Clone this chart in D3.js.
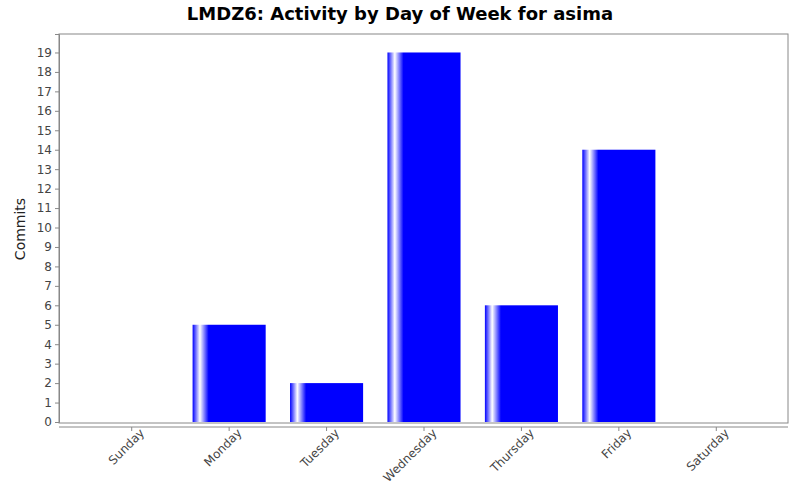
<!DOCTYPE html>
<html><head><meta charset="utf-8">
<script src="https://cdn.jsdelivr.net/npm/d3@7"></script>
<style>body{margin:0;background:#fff}text{font-family:"DejaVu Sans",sans-serif}</style>
</head><body><svg id="c" width="800" height="500"></svg>
<script>
var days = ['Sunday','Monday','Tuesday','Wednesday','Thursday','Friday','Saturday'];
var commits = [0,5,2,19,6,14,0];
var yTicks = d3.range(0,20);

var svg = d3.select('#c');
var L = 59, R = 788, T = 34, B = 423;

var x = d3.scaleBand().domain(days).range([83, 765]).paddingInner(0.25).paddingOuter(0.125);
var y = d3.scaleLinear().domain([0, 19.95]).range([B - 1, T]);

var grad = svg.append('defs').append('linearGradient').attr('id','barGrad')
  .attr('x1','0%').attr('x2','100%').attr('y1','0%').attr('y2','0%');
[['0%','#0000ff'],['10%','#ffffff'],['22%','#0000ff'],['100%','#0000ff']].forEach(function(s){
  grad.append('stop').attr('offset', s[0]).attr('stop-color', s[1]);
});

svg.append('rect').attr('x',L).attr('y',T).attr('width',R-L).attr('height',B-T)
  .attr('fill','#fff').attr('stroke','#888').attr('stroke-width',1);

svg.selectAll('rect.bar').data(commits).enter().append('rect').attr('class','bar')
  .attr('x', function(d,i){ return x(days[i]); })
  .attr('width', x.bandwidth())
  .attr('y', function(d){ return y(d); })
  .attr('height', function(d){ return y(0) - y(d); })
  .attr('fill','url(#barGrad)');

var ya = svg.append('g').attr('transform','translate('+L+',0)')
  .call(d3.axisLeft(y).tickValues(yTicks).tickSize(4).tickPadding(3));
ya.select('.domain').attr('stroke','#888');
ya.selectAll('line').attr('stroke','#888');
ya.selectAll('text').attr('fill','#444').attr('font-size','12px');

var xa = svg.append('g').attr('transform','translate(0,'+(B+4)+')')
  .call(d3.axisBottom(x).tickSize(4).tickSizeOuter(0));
xa.select('.domain').attr('stroke','#888').attr('d','M'+L+',0H'+R);
xa.selectAll('line').attr('stroke','#888');
xa.selectAll('text').attr('fill','#444').attr('font-size','12px')
  .attr('text-anchor','end').attr('dx','0.4em').attr('dy','0.6em')
  .attr('transform','rotate(-45)');

svg.append('text').attr('x',400).attr('y',20).attr('text-anchor','middle')
  .attr('font-size','18px').attr('font-weight','bold').attr('fill','#000')
  .text('LMDZ6: Activity by Day of Week for asima');

svg.append('text').attr('transform','translate(25,229) rotate(-90)')
  .attr('text-anchor','middle').attr('font-size','14px').attr('fill','#222').text('Commits');
</script></body></html>
